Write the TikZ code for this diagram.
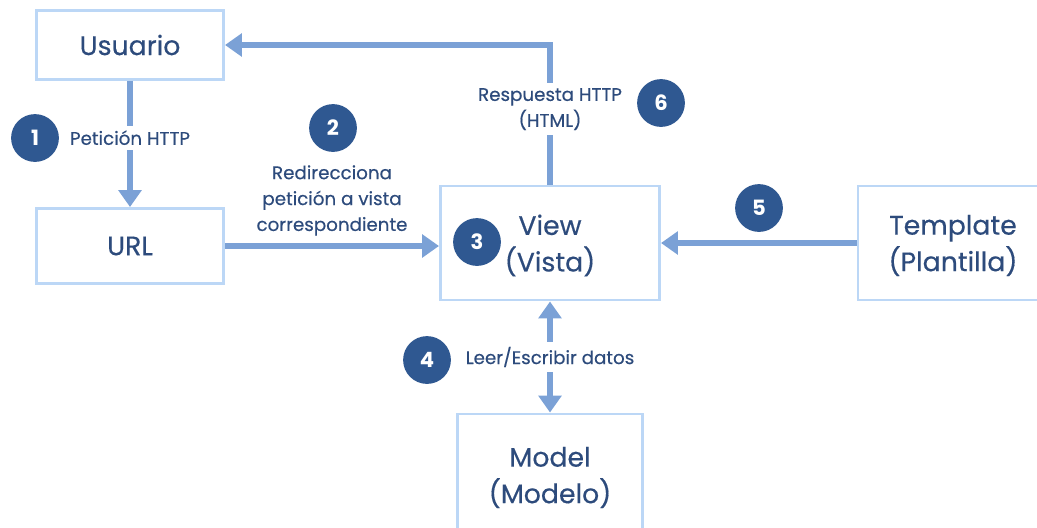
\documentclass[tikz,border=0pt]{standalone}
\usepackage{fontspec}
\setmainfont{Poppins}
\newfontfamily\flowfont{Poppins}[FakeBold=0.4]
\usetikzlibrary{arrows.meta,positioning}
\definecolor{FlowInk}{HTML}{2D4B7C}
\definecolor{FlowArrow}{HTML}{7BA1D6}
\definecolor{FlowBorder}{HTML}{BCD7F6}
\definecolor{FlowDot}{HTML}{2F5891}

\begin{document}
\begin{tikzpicture}[x=0.025cm,y=-0.025cm,
  box/.style={draw=FlowBorder,line width=2.1pt,fill=white,text=FlowInk,align=center,font=\flowfont\fontsize{19}{26}\selectfont},
  twoline/.style={box,text depth=-3pt},
  flow/.style={draw=FlowArrow,line width=4pt,-{Triangle[length=12pt,width=16pt]}},
  tag/.style={text=FlowInk,align=center,font=\flowfont\fontsize{13}{18.4}\selectfont},
  numdot/.style={circle,fill=FlowDot,text=white,minimum size=34pt,inner sep=0pt,font=\fontsize{15}{15}\selectfont\bfseries}]
  \useasboundingbox (0,0) rectangle (1037,527);
  % boxes
  \node[box,minimum width=4.675cm,minimum height=1.725cm] (usuario) at (130,45) {Usuario};
  \node[box,minimum width=4.675cm,minimum height=1.875cm] (url) at (130,246) {URL};
  \node[twoline,minimum width=5.475cm,minimum height=2.85cm] (vista) at (550,243) {View\\(Vista)};
  \node[twoline,minimum width=4.75cm,minimum height=2.85cm] (plantilla) at (953,243) {Template\\(Plantilla)};
  \node[twoline,minimum width=4.625cm,minimum height=3.05cm] (modelo) at (550,475) {Model\\(Modelo)};
  % connectors
  \draw[flow] (usuario) -- node[tag,fill=white,pos=0.45] {Petición HTTP} (url);
  \draw[flow] (url.east) -- node[tag,above=2pt] {Redirecciona\\petición a vista\\correspondiente} (url.east -| vista.west);
  \draw[flow] (vista.north) |- node[tag,fill=white,pos=0.27] {Respuesta HTTP\\(HTML)} (usuario.east);
  \draw[flow] (plantilla.west) -- (plantilla.west -| vista.east);
  \draw[flow,{Triangle[length=12pt,width=16pt]}-{Triangle[length=12pt,width=16pt]}] (vista) -- node[tag,fill=white] {Leer/Escribir datos} (modelo);
  % step numbers
  \foreach \n/\x/\y in {1/35/138,2/333/128,3/477/242,4/427/360,5/759/208,6/661/103}{\node[numdot] (n\n) at (\x,\y) {\n};}
\end{tikzpicture}
\end{document}
